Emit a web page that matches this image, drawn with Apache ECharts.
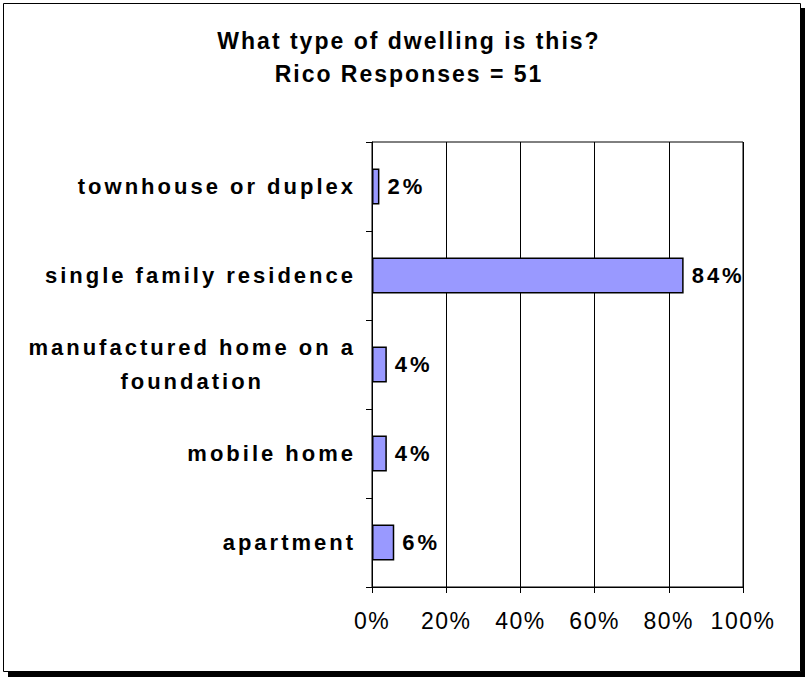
<!DOCTYPE html>
<html>
<head>
<meta charset="utf-8">
<script src="https://cdn.jsdelivr.net/npm/echarts@6/dist/echarts.min.js"></script>
<style>
  html, body { margin: 0; padding: 0; background: #fff; }
  #chart { width: 805px; height: 677px; }
</style>
</head>
<body>
<div id="chart"></div>
<script>
// Survey question: dwelling type, Rico (51 responses)
const categories = [
  'townhouse or duplex',
  'single family residence',
  'manufactured home on a\nfoundation',
  'mobile home',
  'apartment'
];
const shares = [2, 84, 4, 4, 6];           // percent of responses
const percentTicks = [0, 20, 40, 60, 80, 100];

const FONT = "'Liberation Sans', Arial, Helvetica, sans-serif";

// wide tracking used by the printed survey charts (px after each glyph)
function tracking(sizePx, bold) {
  if (!bold) return 1.5;
  return sizePx >= 23 ? 2 : 3;
}

// keep the library's text layout in step with the tracking applied below
const measureCtx = document.createElement('canvas').getContext('2d');
if (echarts.setPlatformAPI) {
  echarts.setPlatformAPI({
    measureText(text, font) {
      font = font || '12px sans-serif';
      measureCtx.font = font;
      const m = /(\d+(?:\.\d+)?)px/.exec(font);
      const size = m ? parseFloat(m[1]) : 12;
      const bold = /bold|[6-9]00/.test(font);
      const w = measureCtx.measureText(text).width;
      return { width: w + tracking(size, bold) * Array.from(text || '').length };
    }
  });
}

const el = document.getElementById('chart');
const chart = echarts.init(el, null, { renderer: 'svg' });

function applyTracking() {
  el.querySelectorAll('svg text').forEach(t => {
    const cs = getComputedStyle(t);
    const size = parseFloat(cs.fontSize);
    const bold = parseInt(cs.fontWeight, 10) >= 600 || cs.fontWeight === 'bold';
    t.style.letterSpacing = tracking(size, bold) + 'px';
  });
}
chart.on('finished', applyTracking);

const labelStyle = { fontFamily: FONT, fontSize: 22, fontWeight: 'bold', color: '#000' };

chart.setOption({
  animation: false,
  backgroundColor: '#fff',
  graphic: [
    { type: 'rect', z: -20, silent: true,
      shape: { x: 8, y: 8, width: 797, height: 669 },
      style: { fill: '#000' } },
    { type: 'rect', z: -19, silent: true,
      shape: { x: 3.5, y: 3.5, width: 797, height: 668 },
      style: { fill: '#fff', stroke: '#000', lineWidth: 1 } }
  ],
  title: {
    text: 'What type of dwelling is this?\nRico Responses = 51',
    left: 404,
    textAlign: 'center',
    top: 19,
    textStyle: { fontFamily: FONT, fontSize: 23, fontWeight: 'bold', color: '#000', lineHeight: 33 }
  },
  grid: {
    left: 372, right: 62, top: 142, bottom: 90,
    show: true, borderColor: '#000', borderWidth: 1
  },
  xAxis: {
    type: 'value',
    min: percentTicks[0],
    max: percentTicks[percentTicks.length - 1],
    interval: percentTicks[1] - percentTicks[0],
    axisLine: { show: true, lineStyle: { color: '#000', width: 1 } },
    axisTick: { show: true, length: 6, lineStyle: { color: '#000' } },
    splitLine: { show: true, lineStyle: { color: '#000', width: 1 } },
    axisLabel: {
      formatter: '{value}%', margin: 22,
      fontFamily: FONT, fontSize: 23, color: '#000'
    }
  },
  yAxis: {
    type: 'category',
    data: categories,
    inverse: true,
    axisLine: { show: true, lineStyle: { color: '#000', width: 1 } },
    axisTick: { show: true, length: 6, alignWithLabel: false, lineStyle: { color: '#000' } },
    splitLine: { show: false },
    axisLabel: {
      interval: 0,
      margin: 16,
      formatter: v => v.split('\n').map(line => '{c|' + line + '}').join('\n'),
      rich: {
        c: Object.assign({ align: 'center', lineHeight: 34 }, labelStyle)
      }
    }
  },
  series: [{
    type: 'bar',
    data: shares,
    barWidth: 36,
    itemStyle: { color: '#9999FF', borderColor: '#000', borderWidth: 1.5 },
    label: Object.assign({
      show: true, position: 'right', distance: 8, formatter: '{c}%'
    }, labelStyle)
  }]
});
applyTracking();
</script>
</body>
</html>
